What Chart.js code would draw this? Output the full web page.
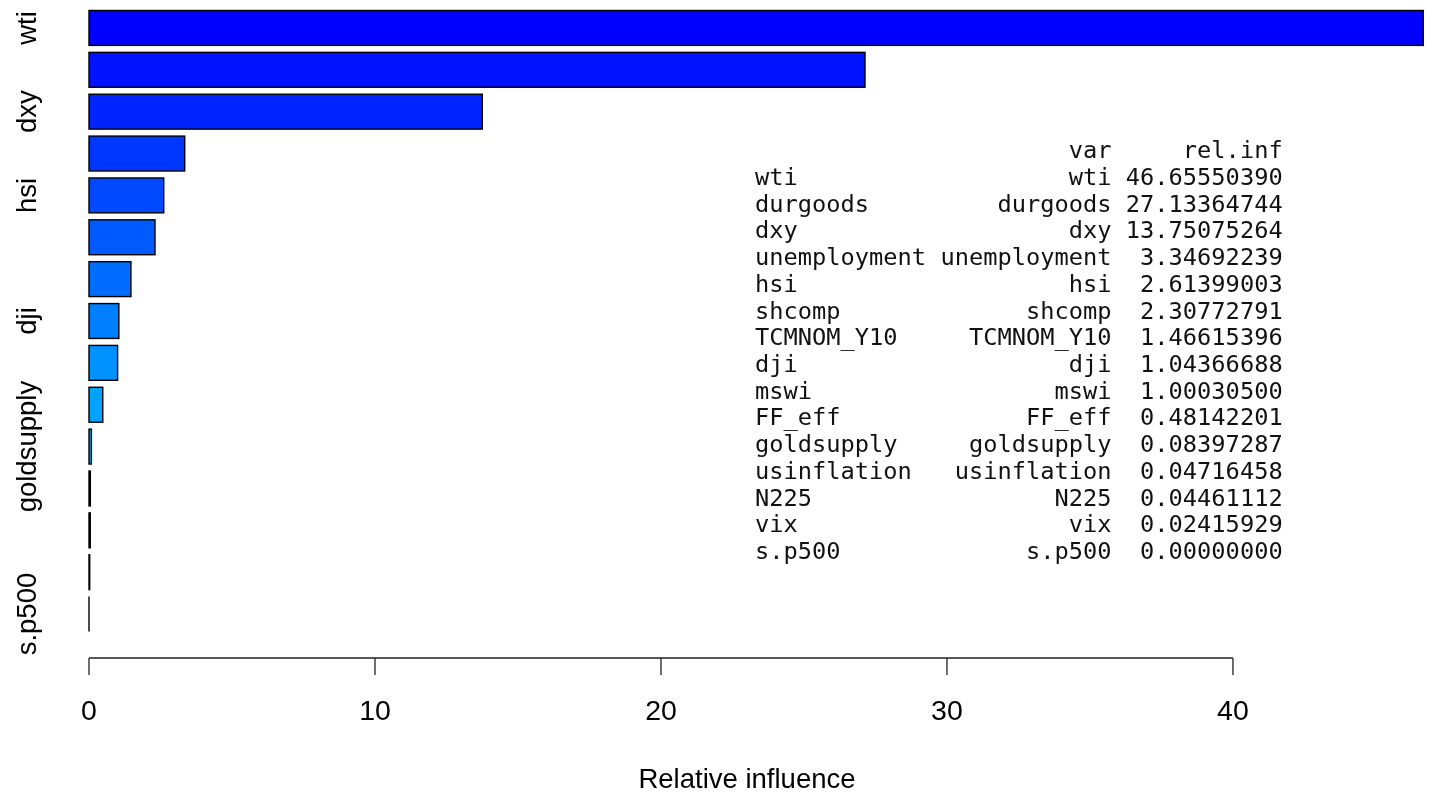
<!DOCTYPE html>
<html>
<head>
<meta charset="utf-8">
<script src="https://cdn.jsdelivr.net/npm/chart.js@4.4.1/dist/chart.umd.min.js"></script>
<style>
  html, body { margin: 0; padding: 0; background: #fff; }
  #wrap { width: 1436px; height: 796px; }
</style>
</head>
<body>
<div id="wrap"><canvas id="canvas" width="1436" height="796"></canvas></div>
<script>
var varNames = ['wti', 'durgoods', 'dxy', 'unemployment', 'hsi', 'shcomp', 'TCMNOM_Y10', 'dji',
                'mswi', 'FF_eff', 'goldsupply', 'usinflation', 'N225', 'vix', 's.p500'];
var relInf = [46.65550390, 27.13364744, 13.75075264, 3.34692239, 2.61399003, 2.30772791, 1.46615396,
              1.04366688, 1.00030500, 0.48142201, 0.08397287, 0.04716458, 0.04461112, 0.02415929, 0.00000000];
// names R managed to print on the y axis (the others overlap and were dropped)
var axisLabels = ['wti', 'dxy', 'hsi', 'dji', 'goldsupply', 's.p500'];
var xTicks = [0, 10, 20, 30, 40];
var xTitle = 'Relative influence';

// rainbow(n, start=3/6, end=4/6), first colour goes to the bottom bar
function hsvColor(h) {
    var i = Math.floor(h * 6), f = h * 6 - i;
    var q = 1 - f, t = f, r, g, b;
    switch (i % 6) {
        case 0: r = 1; g = t; b = 0; break;
        case 1: r = q; g = 1; b = 0; break;
        case 2: r = 0; g = 1; b = t; break;
        case 3: r = 0; g = q; b = 1; break;
        case 4: r = t; g = 0; b = 1; break;
        default: r = 1; g = 0; b = q;
    }
    return 'rgb(' + Math.round(r * 255) + ',' + Math.round(g * 255) + ',' + Math.round(b * 255) + ')';
}
var n = varNames.length;
var barColors = varNames.map(function (v, i) {
    var k = n - 1 - i;
    return hsvColor(3 / 6 + k * (1 / 6) / (n - 1));
});

var sansFont = "'Liberation Sans', Arial, sans-serif";
var monoFont = "'DejaVu Sans Mono', monospace";

// bar outlines drawn like R's rect(): even zero-width bars leave a line
var outlinePlugin = {
    id: 'outline',
    afterDatasetsDraw: function (chart) {
        var ctx = chart.ctx;
        var meta = chart.getDatasetMeta(0);
        ctx.save();
        ctx.strokeStyle = '#000';
        ctx.lineWidth = 1.4;
        meta.data.forEach(function (bar) {
            var p = bar.getProps(['x', 'y', 'base', 'height'], true);
            ctx.strokeRect(Math.min(p.base, p.x), p.y - p.height / 2, Math.abs(p.x - p.base), p.height);
        });
        ctx.restore();
    }
};

var axisPlugin = {
    id: 'rAxis',
    afterDraw: function (chart) {
        var ctx = chart.ctx;
        var xs = chart.scales.x, ys = chart.scales.y;
        var y0 = chart.chartArea.bottom + 23;
        ctx.save();
        ctx.strokeStyle = '#222';
        ctx.lineWidth = 1.3;
        ctx.beginPath();
        ctx.moveTo(xs.getPixelForValue(xTicks[0]), y0);
        ctx.lineTo(xs.getPixelForValue(xTicks[xTicks.length - 1]), y0);
        xTicks.forEach(function (t) {
            var px = xs.getPixelForValue(t);
            ctx.moveTo(px, y0);
            ctx.lineTo(px, y0 + 17);
        });
        ctx.stroke();

        // axis title, centred on R's plot region rather than the bars
        ctx.fillStyle = '#000';
        ctx.font = '27.5px ' + sansFont;
        ctx.textAlign = 'center';
        ctx.textBaseline = 'alphabetic';
        ctx.fillText(xTitle, 747, 788);

        // rotated category names on the left
        axisLabels.forEach(function (lab) {
            var py = ys.getPixelForValue(varNames.indexOf(lab));
            ctx.save();
            ctx.translate(36, py);
            ctx.rotate(-Math.PI / 2);
            ctx.fillText(lab, 0, 0);
            ctx.restore();
        });

        // printed summary table
        ctx.font = '23.7px ' + monoFont;
        ctx.textAlign = 'left';
        ctx.textBaseline = 'middle';
        ctx.fillStyle = '#111';
        var lines = [''.padEnd(12) + ' ' + 'var'.padStart(12) + ' ' + 'rel.inf'.padStart(11)];
        varNames.forEach(function (v, i) {
            lines.push(v.padEnd(12) + ' ' + v.padStart(12) + ' ' + relInf[i].toFixed(8).padStart(11));
        });
        lines.forEach(function (ln, i) {
            ctx.fillText(ln, 755, 152 + i * 26.73);
        });
        ctx.restore();
    }
};

var ctx = document.getElementById('canvas').getContext('2d');
window.myBar = new Chart(ctx, {
    type: 'bar',
    data: {
        labels: varNames,
        datasets: [{
            label: 'rel.inf',
            data: relInf,
            backgroundColor: barColors,
            borderWidth: 0,
            categoryPercentage: 1,
            barPercentage: 1 / 1.2
        }]
    },
    options: {
        indexAxis: 'y',
        responsive: false,
        animation: false,
        layout: { padding: { left: 89, right: 4, top: 7, bottom: 0 } },
        plugins: {
            legend: { display: false },
            tooltip: { enabled: false }
        },
        scales: {
            y: { display: false },
            x: {
                position: 'bottom',
                min: 0,
                max: 46.96,
                afterFit: function (scale) { scale.height = 161; },
                grid: { display: false },
                border: { display: false },
                ticks: {
                    stepSize: 10,
                    includeBounds: false,
                    maxRotation: 0,
                    padding: 52,
                    color: '#000',
                    font: { family: sansFont, size: 28.5 }
                }
            }
        }
    },
    plugins: [outlinePlugin, axisPlugin]
});
</script>
</body>
</html>
